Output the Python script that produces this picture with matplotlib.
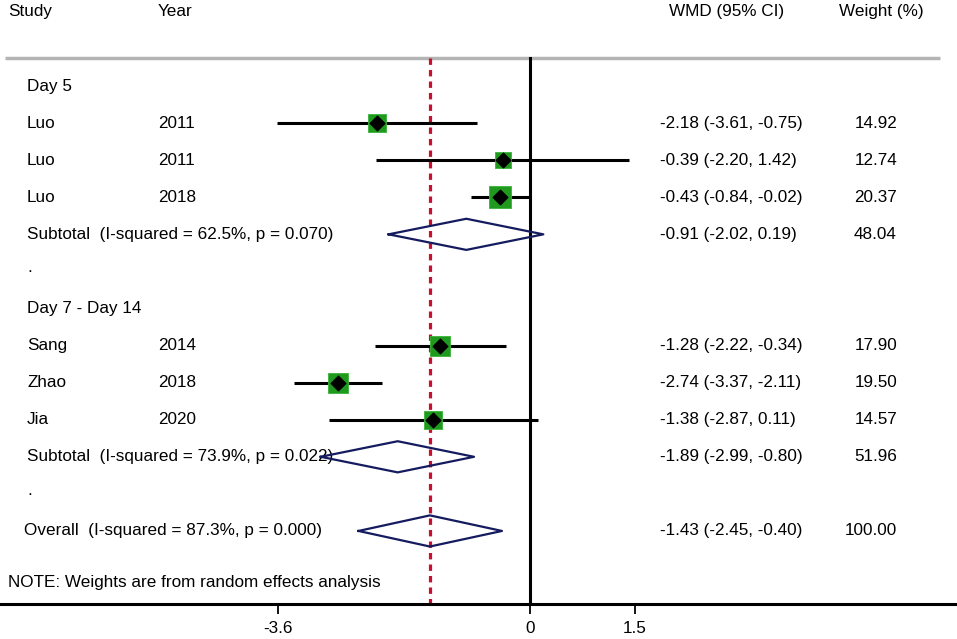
import matplotlib.pyplot as plt
import matplotlib.transforms as mtransforms

plt.rcParams['font.family'] = ['Liberation Sans', 'DejaVu Sans']

# study rows
studies = ['Luo', 'Luo', 'Luo', 'Sang', 'Zhao', 'Jia']
years = ['2011', '2011', '2018', '2014', '2018', '2020']
wmd = [-2.18, -0.39, -0.43, -1.28, -2.74, -1.38]
lo = [-3.61, -2.20, -0.84, -2.22, -3.37, -2.87]
hi = [-0.75, 1.42, -0.02, -0.34, -2.11, 0.11]
weights = [14.92, 12.74, 20.37, 17.90, 19.50, 14.57]
study_rows = [1, 2, 3, 7, 8, 9]

# pooled rows (two subtotals + overall)
pooled_labels = ['Subtotal  (I-squared = 62.5%, p = 0.070)',
                 'Subtotal  (I-squared = 73.9%, p = 0.022)',
                 'Overall  (I-squared = 87.3%, p = 0.000)']
pooled_est = [-0.91, -1.89, -1.43]
pooled_lo = [-2.02, -2.99, -2.45]
pooled_hi = [0.19, -0.80, -0.40]
pooled_w = [48.04, 51.96, 100.00]
pooled_rows = [4, 10, 12]

group_labels = ['Day 5', 'Day 7 - Day 14']
group_rows = [0, 6]
dot_rows = [5, 11]

overall = -1.43
xticks = [-3.6, 0, 1.5]

fig = plt.figure(figsize=(9.57, 6.39), dpi=100)
ax = fig.add_axes([0, 35 / 639, 1, 604 / 639])
ax.set_xlim(-530 / 70, 427 / 70)
ax.set_ylim(13.97, -2.32)

for s in ['top', 'left', 'right']:
    ax.spines[s].set_visible(False)
ax.spines['bottom'].set_linewidth(2.2)
ax.set_yticks([])
ax.set_xticks(xticks)
ax.set_xticklabels(['-3.6', '0', '1.5'])
ax.tick_params(axis='x', direction='out', length=7, width=1.3, labelsize=12.3, pad=5)

trans = ax.get_yaxis_transform()  # x in axes fraction, y in data
fs = 12.3

# header
ax.text(8 / 957, -2, 'Study', transform=trans, fontsize=fs, va='center')
ax.text(158 / 957, -2, 'Year', transform=trans, fontsize=fs, va='center')
ax.text(669 / 957, -2, 'WMD (95% CI)', transform=trans, fontsize=fs, va='center')
ax.text(839 / 957, -2, 'Weight (%)', transform=trans, fontsize=fs, va='center')
ax.plot([5 / 957, 940 / 957], [-0.75, -0.75], transform=trans, color='#b4b4b4', lw=2.5,
        solid_capstyle='butt')

# reference lines
ax.plot([0, 0], [-0.75, 13.97], color='black', lw=2.2, clip_on=False)
ax.plot([overall, overall], [-0.75, 13.97], color='#c8102e', lw=2.3, dashes=(2.0, 1.6))

for lab, r in zip(group_labels, group_rows):
    ax.text(27 / 957, r, lab, transform=trans, fontsize=fs, va='center')
for r in dot_rows:
    ax.text(27 / 957, r - 0.1, '.', transform=trans, fontsize=fs, va='center')

for i in range(len(studies)):
    r = study_rows[i]
    ax.plot([lo[i], hi[i]], [r, r], color='black', lw=2.2, solid_capstyle='butt', zorder=2)
    ax.scatter(wmd[i], r, marker='s', s=11.3 * weights[i], color='#1f9a1f',
               edgecolor='#39b339', linewidth=0.6, zorder=3)
    ax.scatter(wmd[i], r, marker='D', s=55, color='black', zorder=4)
    ax.text(27 / 957, r, studies[i], transform=trans, fontsize=fs, va='center')
    ax.text(158 / 957, r, years[i], transform=trans, fontsize=fs, va='center')
    ax.text(660 / 957, r, f'{wmd[i]:.2f} ({lo[i]:.2f}, {hi[i]:.2f})', transform=trans,
            fontsize=fs, va='center')
    ax.text(897 / 957, r, f'{weights[i]:.2f}', transform=trans, fontsize=fs,
            va='center', ha='right')

for i in range(len(pooled_labels)):
    r = pooled_rows[i]
    h = 0.42
    ax.plot([pooled_lo[i], pooled_est[i], pooled_hi[i], pooled_est[i], pooled_lo[i]],
            [r, r - h, r, r + h, r], color='#141b5e', lw=1.6, zorder=5)
    ax.text(27 / 957 if i < 2 else 24 / 957, r, pooled_labels[i], transform=trans,
            fontsize=fs, va='center')
    ax.text(660 / 957, r, f'{pooled_est[i]:.2f} ({pooled_lo[i]:.2f}, {pooled_hi[i]:.2f})',
            transform=trans, fontsize=fs, va='center')
    ax.text(897 / 957, r, f'{pooled_w[i]:.2f}', transform=trans, fontsize=fs,
            va='center', ha='right')

ax.text(8 / 957, 13.4, 'NOTE: Weights are from random effects analysis', transform=trans,
        fontsize=fs, va='center')

fig.savefig('out.png', dpi=100)
